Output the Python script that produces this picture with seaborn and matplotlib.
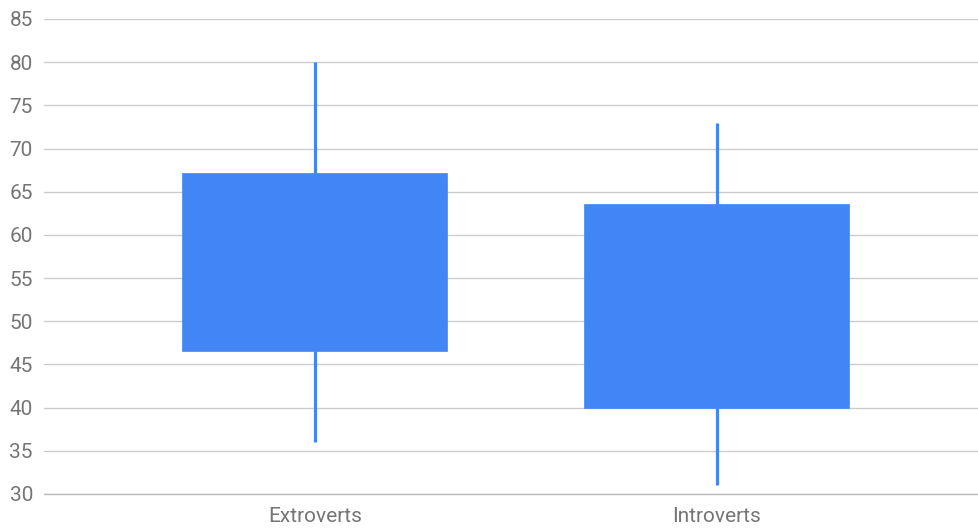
import matplotlib
matplotlib.use("Agg")
import matplotlib.pyplot as plt
import seaborn as sns
import pandas as pd

# Candlestick-style data (low, open, close, high)
categories = ["Extroverts", "Introverts"]
low_vals = [36, 31]
open_vals = [46.5, 40]
close_vals = [67.2, 63.6]
high_vals = [80, 73]
y_ticks = [30, 35, 40, 45, 50, 55, 60, 65, 70, 75, 80, 85]

# Long-form table: with five points [low, open, open, close, high],
# the 25th/75th percentiles are exactly open/close and 0/100 are low/high.
rows = []
for c, lo, op, cl, hi in zip(categories, low_vals, open_vals, close_vals, high_vals):
    for v in (lo, op, op, cl, hi):
        rows.append({"group": c, "value": v})
df = pd.DataFrame(rows)

sns.set_theme(style="white")
plt.rcParams["font.family"] = ["Roboto", "DejaVu Sans"]

blue = "#4285F4"
fig = plt.figure(figsize=(9.79, 5.29), dpi=100)
ax = fig.add_axes([44 / 979, 35 / 529, 935 / 979, 475 / 529])

sns.boxplot(
    data=df, x="group", y="value", order=categories, ax=ax,
    whis=(0, 100), width=0.659, color=blue, saturation=1,
    boxprops=dict(facecolor=blue, edgecolor=blue, linewidth=0.5),
    whiskerprops=dict(color=blue, linewidth=2.3),
    capprops=dict(linewidth=0),
    medianprops=dict(linewidth=0),
    showfliers=False, zorder=3,
)

ax.set_xlim(-0.674, 1.652)
ax.set_ylim(30, 85)
ax.set_yticks(y_ticks)
ax.set_yticklabels([str(t) for t in y_ticks])
ax.yaxis.grid(True, color="#cccccc", linewidth=1.0, zorder=0)
ax.set_axisbelow(True)
ax.axhline(30, color="#bbbbbb", linewidth=1.0, zorder=1, clip_on=False)
for s in ax.spines.values():
    s.set_visible(False)
ax.set_xlabel("")
ax.set_ylabel("")
ax.tick_params(axis="y", length=0, pad=8, labelsize=15, labelcolor="#757575")
ax.tick_params(axis="x", length=0, pad=9, labelsize=15, labelcolor="#757575")

fig.savefig("out.png", dpi=100, facecolor="white")
